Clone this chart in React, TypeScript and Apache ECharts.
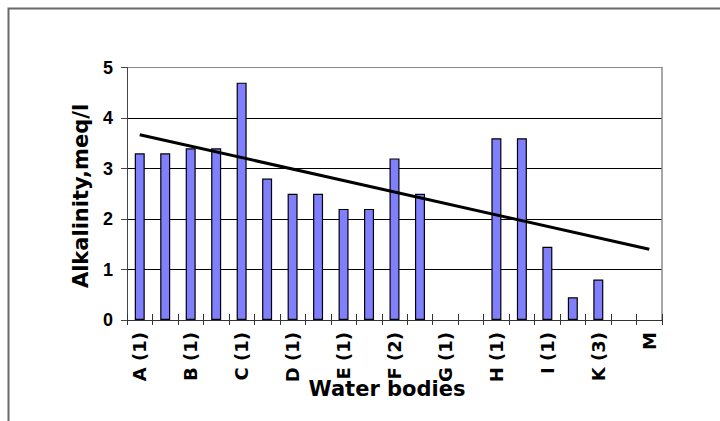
import React, { useEffect, useRef } from "react";
import * as echarts from "echarts";

const tickLabels = ["A (1)", "B (1)", "C (1)", "D (1)", "E (1)", "F (2)", "G (1)", "H (1)", "I (1)", "K (3)", "M"];
const categories = ["0", "1", "2", "3", "4", "5", "6", "7", "8", "9", "10", "11", "12", "13", "14", "15", "16", "17", "18", "19", "20"];
const alkalinity: (number | null)[] = [3.3, 3.3, 3.4, 3.4, 4.7, 2.8, 2.5, 2.5, 2.2, 2.2, 3.2, 2.5, null, null, 3.6, 3.6, 1.45, 0.45, 0.8, null, null];
const trend: (number | null)[] = [3.67, null, null, null, null, null, null, null, null, null, null, null, null, null, null, null, null, null, null, null, 1.4];
const yTicks = [0, 1, 2, 3, 4, 5];

const FONT = "'DejaVu Sans', Verdana, sans-serif";
const NUMFONT = "'Liberation Sans', Arial, sans-serif";

export default function App() {
  const ref = useRef<HTMLDivElement>(null);
  useEffect(() => {
    document.body.style.margin = "0";
    if (!ref.current) return;
    const chart = echarts.init(ref.current, null, { renderer: "svg" });
    chart.setOption({
      animation: false,
      backgroundColor: "#ffffff",
      grid: { left: 127, right: 58, top: 67.5, bottom: 101, containLabel: false },
      xAxis: [
        {
          type: "category",
          data: categories,
          position: "bottom",
          boundaryGap: true,
          axisLine: { show: true, lineStyle: { color: "#333", width: 1 } },
          axisTick: { show: true, interval: 0, length: 5, inside: false, lineStyle: { color: "#333" } },
          axisLabel: {
            interval: 0,
            rotate: 90,
            margin: 12,
            color: "#000",
            fontFamily: FONT,
            fontWeight: "bold",
            fontSize: 18,
            formatter: (_v: string, i: number) => (i % 2 === 0 ? tickLabels[i / 2] : ""),
          },
          splitLine: { show: false },
        },
        {
          type: "category",
          data: categories,
          position: "bottom",
          boundaryGap: true,
          axisLine: { show: false },
          axisTick: { show: true, interval: 0, length: 6, inside: true, lineStyle: { color: "#333" } },
          axisLabel: { show: false },
          splitLine: { show: false },
        },
      ],
      yAxis: [
        {
          type: "value",
          min: 0,
          max: 5,
          interval: 1,
          axisLine: { show: true, lineStyle: { color: "#444", width: 1 } },
          axisTick: { show: true, length: 6, lineStyle: { color: "#444" } },
          axisLabel: {
            margin: 14,
            color: "#000",
            fontFamily: NUMFONT,
            fontWeight: "bold",
            fontSize: 18,
            formatter: (v: number) => (yTicks.includes(v) ? String(v) : ""),
          },
          splitLine: { show: true, lineStyle: { color: ["#000", "#000", "#000", "#000", "#000", "#8a8a8a"], width: 1 } },
        },
        {
          type: "value",
          min: 0,
          max: 5,
          interval: 1,
          position: "right",
          axisLine: { show: true, lineStyle: { color: "#8a8a8a", width: 1.5 } },
          axisTick: { show: false },
          axisLabel: { show: false },
          splitLine: { show: false },
        },
      ],
      series: [
        {
          type: "bar",
          data: alkalinity,
          xAxisIndex: 0,
          yAxisIndex: 0,
          barWidth: 10,
          itemStyle: { color: "#8080ff", borderColor: "#000", borderWidth: 1.2 },
        },
        {
          type: "line",
          data: trend,
          xAxisIndex: 0,
          yAxisIndex: 0,
          connectNulls: true,
          showSymbol: false,
          symbol: "none",
          lineStyle: { color: "#000", width: 3 },
          z: 5,
        },
      ],
      graphic: [
        {
          type: "rect",
          shape: { x: 8.5, y: 8.5, width: 730, height: 440 },
          style: { fill: "none", stroke: "#6a6a6a", lineWidth: 2 },
          silent: true,
        },
        {
          type: "text",
          x: 81,
          y: 196,
          rotation: Math.PI / 2,
          style: {
            text: "Alkalinity,meq/l",
            fontFamily: FONT,
            fontWeight: "bold",
            fontSize: 21,
            fill: "#000",
            align: "center",
            verticalAlign: "middle",
          },
        },
        {
          type: "text",
          x: 387,
          y: 389,
          style: {
            text: "Water bodies",
            fontFamily: FONT,
            fontWeight: "bold",
            fontSize: 21,
            fill: "#000",
            align: "center",
            verticalAlign: "middle",
          },
        },
      ],
    });
    return () => chart.dispose();
  }, []);
  return <div ref={ref} style={{ width: 720, height: 421 }} />;
}
